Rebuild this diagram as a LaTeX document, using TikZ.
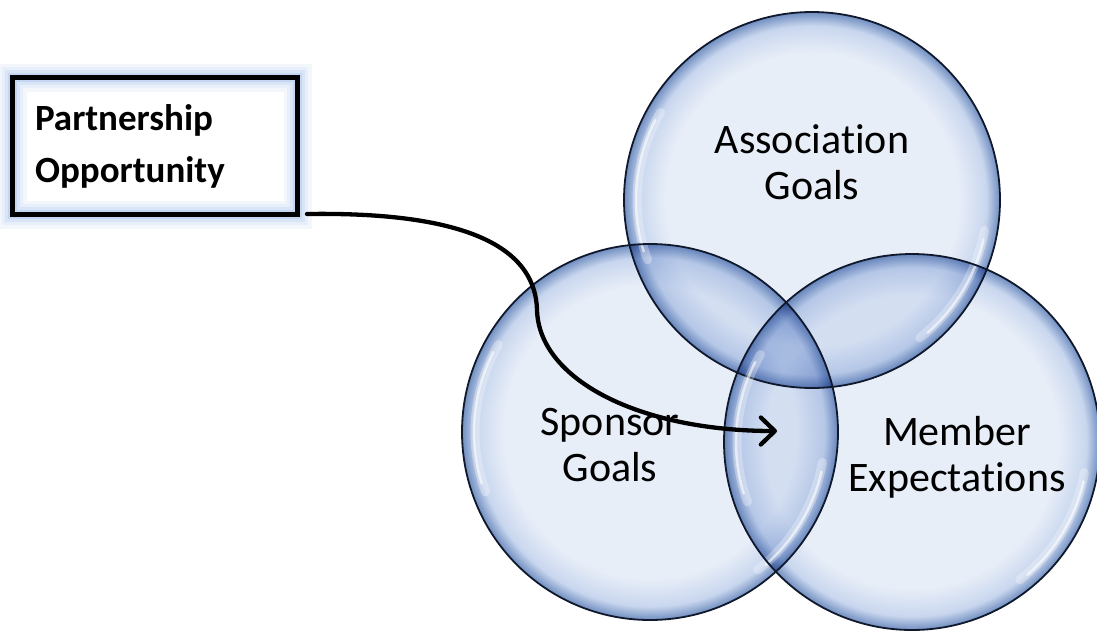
\documentclass[tikz,border=0pt]{standalone}
\usepackage{fontspec}
\setmainfont{Carlito}[Ligatures={NoCommon}]
\usetikzlibrary{positioning}
\usetikzlibrary{arrows.meta}
\usepackage{xcolor}

\definecolor{bubin}{RGB}{232,238,248}
\definecolor{bubmid}{RGB}{200,214,238}
\definecolor{bubrim}{RGB}{112,142,192}
\definecolor{bubline}{RGB}{16,24,44}
\definecolor{glowblue}{RGB}{196,214,242}
\pgfdeclareradialshading{bubble}{\pgfpoint{0bp}{0bp}}{color(0bp)=(bubin); color(19.5bp)=(bubin); color(23.2bp)=(bubmid); color(25bp)=(bubrim); color(50bp)=(bubrim)}

\begin{document}
\begin{tikzpicture}
[x=1pt, y=-1pt,
% The bubble style is used to fill the three glass circles
bubble/.style={circle, inner sep=0pt, minimum size=376pt, shading=bubble},
% The rim style is used to draw the outline of each bubble
rim/.style={draw=bubline, line width=1.8pt},
% The shine styles are used to draw the white reflections
shine/.style={draw=white, line width=2.5pt, line cap=round, draw opacity=0.6},
softshine/.style={draw=white, line width=9pt, line cap=round, draw opacity=0.3},
% The goal style is used to write the name of each circle
goal/.style={align=center, font=\fontsize{42}{46}\selectfont},
% The opportunity style is used to draw the framed box
opportunity/.style={rectangle, draw=black, line width=5pt, minimum width=285pt, minimum height=137pt, text width=240pt, inner xsep=22.5pt, align=left, font=\bfseries\fontsize{37}{52}\selectfont,
  preaction={draw=glowblue!20, line width=28pt}, preaction={draw=glowblue!40, line width=21pt}, preaction={draw=glowblue!65, line width=15pt}, preaction={draw=glowblue, line width=9pt}}
]
\useasboundingbox (0,0) rectangle (1097,630);

% Draw bubbles
\begin{scope}[blend mode=multiply]
\node [bubble] (assoc) at (812,200) {};
\node [bubble] (spons) at (650,432) {};
\node [bubble] (memb) at (912,442) {};
\end{scope}
\foreach \b in {assoc,spons,memb}{
  \draw [rim] (\b.center) circle [radius=188pt];
  \draw [softshine] (\b.center) ++(150:175pt) arc [start angle=150, end angle=200, radius=175pt];
  \draw [shine] (\b.center) ++(153:176pt) arc [start angle=153, end angle=197, radius=176pt];
  \draw [softshine] (\b.center) ++(-52:175pt) arc [start angle=-52, end angle=-10, radius=175pt];
  \draw [shine] (\b.center) ++(-49:176pt) arc [start angle=-49, end angle=-13, radius=176pt];
}

% Draw goals
\node [goal] (assoctext) at (812,162) {Association\\Goals};
\node [goal] (sponstext) at (610,445) {Sponsor\\Goals};
\node [goal] (membtext) at (957,457) {Member\\Expectations};

% Draw opportunity
\node [opportunity] (opp) at (155,146) {Partnership\\Opportunity};
\coordinate (bend) at (537,310);
\coordinate (target) at (777,431);
\draw [line width=4.3pt, line cap=round, -{Straight Barb[length=14pt, width=27pt, round]}] ([xshift=7pt, yshift=3pt]opp.south east) .. controls (440,212) and (535,236) .. (bend) .. controls (539,380) and (640,431) .. (target);
\end{tikzpicture}
\end{document}
